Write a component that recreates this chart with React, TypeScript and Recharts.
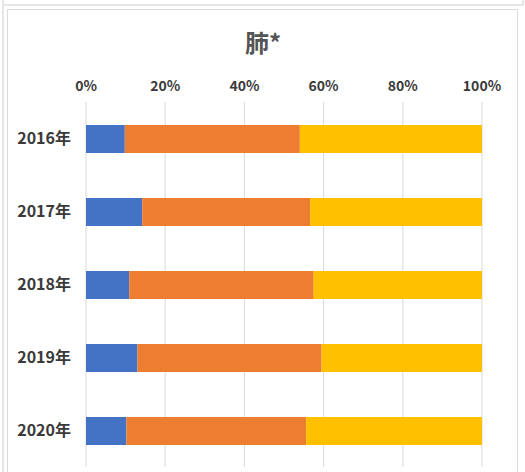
import { BarChart, Bar, XAxis, YAxis, CartesianGrid } from "recharts";

// 肺* — share by year (100% stacked)
const years = ["2016年", "2017年", "2018年", "2019年", "2020年"];
const blueShare = [9.8, 14.2, 10.9, 13.0, 10.2];
const orangeShare = [44.2, 42.4, 46.6, 46.5, 45.4];
const yellowShare = [46.0, 43.4, 42.5, 40.5, 44.4];
const xTicks = [0, 20, 40, 60, 80, 100];

const rows = years.map((year, i) => ({
  year,
  blue: blueShare[i],
  orange: orangeShare[i],
  yellow: yellowShare[i],
}));

const FONT = '"Noto Sans CJK JP", "Noto Sans", sans-serif';

export default function App() {
  return (
    <div style={{ position: "absolute", left: 0, top: 0, width: 525, height: 472, overflow: "hidden", background: "#fff" }}>
      {/* frame lines */}
      <div style={{ position: "absolute", left: 2, top: -20, width: 518, height: 22, border: "2px solid #e6e6e6" }} />
      <div style={{ position: "absolute", left: 2, top: 4, width: 2, height: 470, background: "#e6e6e6" }} />
      <div style={{ position: "absolute", left: 7, top: 9, width: 509, height: 480, border: "1px solid #dcdcdc" }} />

      <div
        style={{
          position: "absolute",
          left: 0,
          top: 27,
          width: 526,
          textAlign: "center",
          fontFamily: FONT,
          fontSize: 24,
          fontWeight: 700,
          color: "#555555",
          lineHeight: "30px",
        }}
      >
        肺*
      </div>

      <div style={{ position: "absolute", left: 0, top: 0 }}>
        <BarChart
          width={525}
          height={472}
          data={rows}
          layout="vertical"
          barSize={28}
          margin={{ top: 72, right: 43, bottom: 5, left: 0 }}
        >
          <CartesianGrid horizontal={false} stroke="#d9d9d9" />
          <XAxis
            type="number"
            orientation="top"
            domain={[0, 100]}
            ticks={xTicks}
            tickFormatter={(v: number) => `${v}%`}
            axisLine={false}
            tickLine={false}
            tickSize={0}
            tickMargin={11}
            height={30}
            interval={0}
            tick={{ fontFamily: FONT, fontSize: 14, fontWeight: 700, fill: "#3a3a3a" }}
          />
          <YAxis
            type="category"
            dataKey="year"
            width={86}
            axisLine={false}
            tickLine={false}
            tickSize={0}
            tickMargin={15}
            tick={{ fontFamily: FONT, fontSize: 16, fontWeight: 700, fill: "#3a3a3a" }}
          />
          <Bar dataKey="blue" stackId="s" fill="#4472C4" isAnimationActive={false} />
          <Bar dataKey="orange" stackId="s" fill="#ED7D31" isAnimationActive={false} />
          <Bar dataKey="yellow" stackId="s" fill="#FFC000" isAnimationActive={false} />
        </BarChart>
      </div>
    </div>
  );
}
